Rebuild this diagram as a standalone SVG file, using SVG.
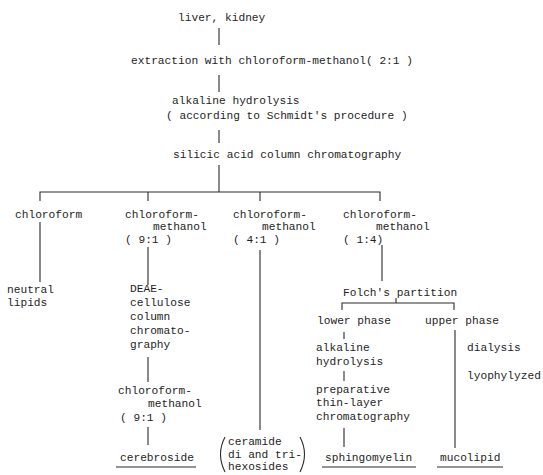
<svg xmlns="http://www.w3.org/2000/svg" width="543" height="475" viewBox="0 0 543 475">
<style>
text{font-family:"Liberation Mono","DejaVu Sans Mono",monospace;font-size:11.2px;fill:#1e1e1e}
.c{stroke:#2a2a2a;stroke-width:1.1;fill:none}
</style>
<rect width="543" height="475" fill="#fff"/>
<g id="connectors" class="c">
<path d="M219,28V45M219,75V92M219,130V143M219,165V192"/>
<path d="M40,201V192H380V201M148,192V201M260,192V201"/>
<path d="M40,222V282M148,247V285M260,250V430M382,245V281"/>
<path d="M148,357V382M148,427V445"/>
<path d="M342,310V303H454V310M396,298V303"/>
<path d="M344,332V339M344,371V381M344,428V447M455,330V448"/>
<path d="M116,467H196M322,467H416M437,467H503"/>
<path d="M225,437Q216,454 225,472M300,437Q309,454 300,472"/>
</g>
<g id="n1"><text x="178" y="21">liver, kidney</text></g>
<g id="n2"><text x="131" y="64">extraction with chloroform-methanol( 2:1 )</text></g>
<g id="n3"><text x="172" y="104">alkaline hydrolysis</text><text x="166" y="119">( according to Schmidt's procedure )</text></g>
<g id="n4"><text x="173" y="158">silicic acid column chromatography</text></g>
<g id="n5"><text x="15" y="218">chloroform</text></g>
<g id="n6"><text x="125" y="218">chloroform-</text><text x="153" y="230">methanol</text><text x="125" y="243">( 9:1 )</text></g>
<g id="n7"><text x="233" y="218">chloroform-</text><text x="262" y="230">methanol</text><text x="233" y="243">( 4:1 )</text></g>
<g id="n8"><text x="343" y="218">chloroform-</text><text x="376" y="230">methanol</text><text x="343" y="243">( 1:4)</text></g>
<g id="n9"><text x="7" y="293">neutral</text><text x="7" y="306">lipids</text></g>
<g id="n10"><text x="130" y="292">DEAE-</text><text x="130" y="306">cellulose</text><text x="130" y="320">column</text><text x="130" y="334">chromato-</text><text x="130" y="348">graphy</text></g>
<g id="n11"><text x="118" y="394">chloroform-</text><text x="148" y="407">methanol</text><text x="120" y="421">( 9:1 )</text></g>
<g id="n12"><text x="120" y="461">cerebroside</text></g>
<g id="n13"><text x="228" y="445">ceramide</text><text x="228" y="458">di and tri-</text><text x="228" y="470">hexosides</text></g>
<g id="n14"><text x="343" y="296">Folch's partition</text></g>
<g id="n15"><text x="317" y="324">lower phase</text></g>
<g id="n16"><text x="425" y="324">upper phase</text></g>
<g id="n17"><text x="316" y="351">alkaline</text><text x="316" y="365">hydrolysis</text></g>
<g id="n18"><text x="316" y="393">preparative</text><text x="316" y="406">thin-layer</text><text x="316" y="420">chromatography</text></g>
<g id="n19"><text x="325" y="461">sphingomyelin</text></g>
<g id="n20"><text x="467" y="351">dialysis</text><text x="467" y="379">lyophylyzed</text></g>
<g id="n21"><text x="440" y="461">mucolipid</text></g>
</svg>
